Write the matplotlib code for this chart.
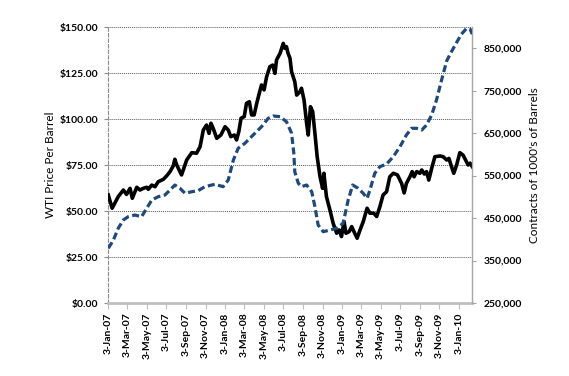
import matplotlib
matplotlib.use('Agg')
import matplotlib.pyplot as plt
import matplotlib.dates as mdates
import pandas as pd
from matplotlib.ticker import FuncFormatter, FixedLocator

# ---- data ----
price_dates = ["2007-01-03","2007-01-15","2007-02-03","2007-02-19","2007-03-01","2007-03-12","2007-03-19",
    "2007-04-02","2007-04-12","2007-04-22","2007-05-03","2007-05-08","2007-05-19","2007-05-29","2007-06-08",
    "2007-06-24","2007-07-04","2007-07-15","2007-07-25","2007-07-30","2007-08-05","2007-08-20","2007-09-05",
    "2007-09-21","2007-10-06","2007-10-17","2007-10-27","2007-11-06","2007-11-14","2007-11-20","2007-11-27",
    "2007-12-08","2007-12-21","2008-01-03","2008-01-13","2008-01-21","2008-02-01","2008-02-08","2008-02-15",
    "2008-02-22","2008-03-03","2008-03-10","2008-03-19","2008-03-26","2008-04-03","2008-04-11","2008-04-19",
    "2008-04-26","2008-05-04","2008-05-12","2008-05-22","2008-05-31","2008-06-07","2008-06-12","2008-06-23",
    "2008-07-03","2008-07-08","2008-07-13","2008-07-18","2008-07-24","2008-07-29","2008-08-08","2008-08-14",
    "2008-08-24","2008-08-29","2008-09-06","2008-09-14","2008-09-19","2008-09-26","2008-10-03","2008-10-10",
    "2008-10-17","2008-10-26","2008-11-03","2008-11-07","2008-11-15","2008-11-26","2008-12-06","2008-12-17",
    "2008-12-25","2009-01-01","2009-01-09","2009-01-15","2009-01-25","2009-02-02","2009-02-09","2009-02-19",
    "2009-02-28","2009-03-10","2009-03-22","2009-03-31","2009-04-12","2009-04-21","2009-05-01","2009-05-11",
    "2009-05-22","2009-06-01","2009-06-12","2009-06-25","2009-07-08","2009-07-16","2009-07-23","2009-08-03",
    "2009-08-10","2009-08-16","2009-08-24","2009-09-03","2009-09-09","2009-09-17","2009-09-24","2009-10-01",
    "2009-10-10","2009-10-20","2009-11-05","2009-11-15","2009-11-26","2009-12-03","2009-12-11","2009-12-18",
    "2009-12-27","2010-01-06","2010-01-16","2010-01-24","2010-02-01","2010-02-07","2010-02-14"]
price_values = [58.7,51.5,57.8,61.4,59.0,62.3,56.9,
    62.9,61.4,62.3,62.9,61.8,64.1,63.2,65.9,
    67.2,69.0,71.4,74.5,78.1,75.0,69.6,77.7,
    81.7,81.4,85.0,94.0,96.7,92.2,97.7,94.9,
    89.5,91.3,95.8,94.0,90.4,91.3,88.6,93.1,
    100.4,101.3,108.5,109.4,102.2,102.2,108.5,114.0,
    118.5,115.8,123.0,128.4,129.3,124.8,132.1,135.7,
    141.1,138.4,139.3,135.7,133.0,125.7,120.3,113.0,
    114.8,116.7,110.3,97.7,91.3,106.7,104.0,92.2,
    79.5,68.6,62.3,70.5,57.8,50.5,43.3,37.9,
    39.7,36.1,44.2,37.9,38.8,41.5,38.8,35.2,
    39.7,44.2,51.5,48.8,48.8,47.0,52.3,58.7,
    60.5,68.6,70.5,69.6,65.0,59.8,65.0,68.6,
    71.4,68.6,71.4,70.5,72.3,70.1,71.4,66.8,
    73.2,79.5,79.9,79.5,77.7,78.6,74.1,70.5,
    75.0,81.7,80.4,77.7,75.0,76.0,74.1]

oi_dates = ["2007-01-03","2007-01-19","2007-02-03","2007-02-19","2007-03-06","2007-03-27","2007-04-17",
    "2007-05-03","2007-05-19","2007-06-08","2007-06-29","2007-07-15","2007-07-30","2007-08-15","2007-08-31",
    "2007-09-21","2007-10-11","2007-11-01","2007-12-02","2007-12-28","2008-01-13","2008-01-29","2008-02-13",
    "2008-03-05","2008-03-31","2008-04-26","2008-05-17","2008-06-02","2008-06-23","2008-07-13","2008-07-29",
    "2008-08-05","2008-08-08","2008-08-19","2008-08-29","2008-09-14","2008-09-30","2008-10-10","2008-10-20",
    "2008-11-05","2008-11-26","2008-12-17","2009-01-06","2009-01-22","2009-02-05","2009-02-22","2009-03-10",
    "2009-03-22","2009-03-31","2009-04-15","2009-05-01","2009-05-22","2009-06-12","2009-07-03","2009-07-23",
    "2009-08-08","2009-08-24","2009-09-09","2009-09-24","2009-10-10","2009-10-25","2009-11-10","2009-11-26",
    "2009-12-11","2009-12-27","2010-01-11","2010-01-27","2010-02-07","2010-02-14"]
oi_values = [378800,398400,425900,445500,453200,457200,453200,
    473000,492600,500300,504300,516100,527800,520100,508300,
    512100,514500,524000,529500,524000,539700,586800,614300,
    626100,645700,665200,685000,690400,688800,677000,650000,
    602500,559000,532000,524000,527900,512100,476800,433700,
    417900,421900,425900,437700,492600,527900,520100,508300,
    496600,516100,555400,571100,577000,594700,618200,645700,
    661400,661400,657400,669200,692800,728000,775200,820400,
    842000,863600,883200,896600,895000,883200]

tick_dates = ["2007-01-03","2007-03-03","2007-05-03","2007-07-03","2007-09-03","2007-11-03",
    "2008-01-03","2008-03-03","2008-05-03","2008-07-03","2008-09-03","2008-11-03",
    "2009-01-03","2009-03-03","2009-05-03","2009-07-03","2009-09-03","2009-11-03","2010-01-03"]
left_ticks = [0, 25, 50, 75, 100, 125, 150]
right_ticks = [250000, 350000, 450000, 550000, 650000, 750000, 850000]

left_label = "WTI Price Per Barrel"
right_label = "Contracts of 1000's of Barrels"

# ---- plot ----
plt.rcParams['font.family'] = ['Lato', 'DejaVu Sans']
plt.rcParams['font.weight'] = 'bold'

pd_price = pd.to_datetime(price_dates)
pd_oi = pd.to_datetime(oi_dates)
pd_ticks = pd.to_datetime(tick_dates)

fig = plt.figure(figsize=(5.69, 3.76), dpi=100)
ax = fig.add_axes([108.3/569, 1-303/376, (472.3-108.3)/569, (303-27)/376])
ax2 = ax.twinx()

ax.plot(pd_price, price_values, color='black', lw=2.6, solid_joinstyle='round', zorder=3)
ax2.plot(pd_oi, oi_values, color='#1F497D', lw=2.3, linestyle=(0, (2.2, 1.1)), zorder=3)

ax.set_xlim(pd_price[0], pd_price[-1])
ax.set_ylim(0, 150)
ax2.set_ylim(250000, 900000)

ax.yaxis.set_major_locator(FixedLocator(left_ticks))
ax.yaxis.set_major_formatter(FuncFormatter(lambda v, p: f"${v:,.2f}"))
ax2.yaxis.set_major_locator(FixedLocator(right_ticks))
ax2.yaxis.set_major_formatter(FuncFormatter(lambda v, p: f"{int(v):,}"))

ax.set_xticks(mdates.date2num(pd_ticks))
ax.set_xticklabels([f"{d.day}-{d.strftime('%b-%y')}" for d in pd_ticks], rotation=90)

for a in (ax, ax2):
    for s in a.spines.values():
        s.set_visible(False)

ax.spines['left'].set_visible(True)
ax.spines['left'].set_color('#8C8C8C')
ax.spines['left'].set_linestyle((0, (3, 2)))
ax.spines['left'].set_linewidth(0.8)
ax.spines['bottom'].set_visible(True)
ax.spines['bottom'].set_color('#BFBFBF')
ax.spines['bottom'].set_linewidth(2.0)
ax2.spines['right'].set_visible(True)
ax2.spines['right'].set_color('#A6A6A6')
ax2.spines['right'].set_linewidth(1.0)

ax.grid(axis='y', color='#595959', linestyle=(0, (1, 1)), linewidth=0.7)
ax.grid(axis='x', visible=False)
ax.set_axisbelow(True)

ax.tick_params(axis='y', length=3, color='#8C8C8C', labelsize=7.5, pad=4)
ax.tick_params(axis='x', length=4, color='#BFBFBF', labelsize=7.5, pad=3)
ax2.tick_params(axis='y', length=3, color='#A6A6A6', labelsize=7.5, pad=5)

ax.set_ylabel(left_label, fontsize=8.5, fontweight='normal', labelpad=3)
ax2.set_ylabel(right_label, fontsize=8.5, fontweight='normal', labelpad=5)

fig.savefig('out.png', dpi=100)
